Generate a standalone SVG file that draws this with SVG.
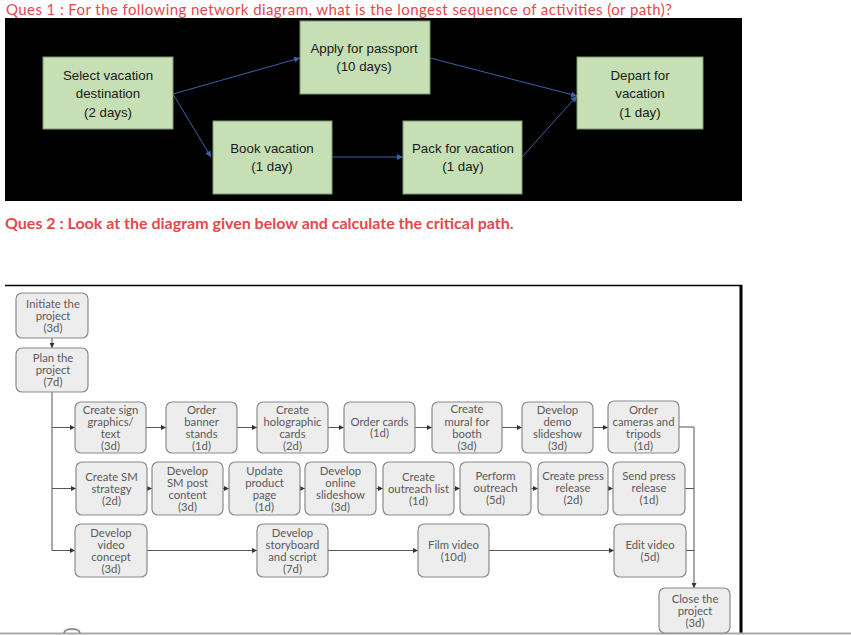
<svg xmlns="http://www.w3.org/2000/svg" width="851" height="635" viewBox="0 0 851 635">
<defs>
<style>
.q1{font-family:Lato,"Liberation Sans",sans-serif;font-size:15px;fill:#e5484d}
.q2{font-family:Lato,"Liberation Sans",sans-serif;font-size:16px;font-weight:bold;fill:#e5484d}
.g rect{fill:#c6dfb4;stroke:#7f9a70;stroke-width:1}
.g text{font-family:"Liberation Sans",Arial,sans-serif;font-size:13.3px;fill:#1a1a1a;text-anchor:middle}
.n rect{fill:#ededed;stroke:#8a8a8a;stroke-width:1.2}
.n text{font-family:Lato,"Open Sans",sans-serif;font-size:11.3px;fill:#5a5a5a;text-anchor:middle}
.bl{stroke:#3a63a8;stroke-width:1;fill:none}
.gl{stroke:#555;stroke-width:1;fill:none}
</style>
<marker id="ab" viewBox="0 0 10 10" refX="10" refY="5" markerWidth="6" markerHeight="6" markerUnits="userSpaceOnUse" orient="auto">
<path d="M0,0 L10,5 L0,10 z" fill="#3a63a8"/>
</marker>
<marker id="ag" viewBox="0 0 10 10" refX="10" refY="5" markerWidth="5" markerHeight="5" markerUnits="userSpaceOnUse" orient="auto">
<path d="M0,0 L10,5 L0,10 z" fill="#333"/>
</marker>
</defs>
<rect width="851" height="635" fill="#fff"/>
<text class="q1" x="6" y="14.5" textLength="666" lengthAdjust="spacing">Ques 1 : For the following network diagram, what is the longest sequence of activities (or path)?</text>
<rect x="5" y="18" width="737" height="183" fill="#000"/>
<g id="top-connectors">
<line class="bl" x1="173" y1="94" x2="300" y2="58" marker-end="url(#ab)"/>
<line class="bl" x1="173" y1="94" x2="211" y2="157" marker-end="url(#ab)"/>
<line class="bl" x1="332" y1="157" x2="403" y2="157" marker-end="url(#ab)"/>
<line class="bl" x1="430" y1="58" x2="577" y2="96" marker-end="url(#ab)"/>
<line class="bl" x1="522" y1="157" x2="577" y2="96" marker-end="url(#ab)"/>
</g>
<g id="select" class="g"><rect x="43" y="57" width="130" height="72"/><text x="108" y="80">Select vacation</text><text x="108" y="98">destination</text><text x="108" y="117">(2 days)</text></g>
<g id="apply" class="g"><rect x="300" y="21" width="130" height="73"/><text x="364" y="53">Apply for passport</text><text x="364" y="71">(10 days)</text></g>
<g id="book" class="g"><rect x="213" y="121" width="119" height="73"/><text x="272" y="153">Book vacation</text><text x="272" y="171">(1 day)</text></g>
<g id="pack" class="g"><rect x="403" y="121" width="119" height="73"/><text x="463" y="153">Pack for vacation</text><text x="463" y="171">(1 day)</text></g>
<g id="depart" class="g"><rect x="577" y="57" width="126" height="72"/><text x="640" y="80">Depart for</text><text x="640" y="98">vacation</text><text x="640" y="117">(1 day)</text></g>

<text class="q2" x="5" y="229">Ques 2 : Look at the diagram given below and calculate the critical path.</text>
<line x1="5" y1="285.5" x2="742" y2="285.5" stroke="#000" stroke-width="1.5"/>
<line x1="741" y1="285" x2="741" y2="633" stroke="#000" stroke-width="3"/>
<line x1="0" y1="633.5" x2="851" y2="633.5" stroke="#a8a8a8" stroke-width="2"/>
<path d="M64,633 A8,4 0 0 1 80,633" fill="none" stroke="#777" stroke-width="1.5"/>

<g id="connectors">
<line class="gl" x1="52" y1="338" x2="52" y2="348" marker-end="url(#ag)"/>
<path class="gl" d="M52,392 V550.5 H75" marker-end="url(#ag)"/>
<path class="gl" d="M52,427.5 H75" marker-end="url(#ag)"/>
<path class="gl" d="M52,488.5 H76" marker-end="url(#ag)"/>
<path class="gl" d="M146,427.5 H166" marker-end="url(#ag)"/>
<path class="gl" d="M237,427.5 H257" marker-end="url(#ag)"/>
<path class="gl" d="M328,427.5 H344" marker-end="url(#ag)"/>
<path class="gl" d="M415,427.5 H432" marker-end="url(#ag)"/>
<path class="gl" d="M502,427.5 H522" marker-end="url(#ag)"/>
<path class="gl" d="M593,427.5 H608" marker-end="url(#ag)"/>
<path class="gl" d="M679,427 H694 V588" marker-end="url(#ag)"/>
<path class="gl" d="M147,488.5 H152" marker-end="url(#ag)"/>
<path class="gl" d="M223,488.5 H229" marker-end="url(#ag)"/>
<path class="gl" d="M300,488.5 H305" marker-end="url(#ag)"/>
<path class="gl" d="M376,488.5 H383" marker-end="url(#ag)"/>
<path class="gl" d="M454,488.5 H460" marker-end="url(#ag)"/>
<path class="gl" d="M531,488.5 H538" marker-end="url(#ag)"/>
<path class="gl" d="M608,488.5 H613" marker-end="url(#ag)"/>
<path class="gl" d="M685,488.5 H694"/>
<path class="gl" d="M147,550.5 H257" marker-end="url(#ag)"/>
<path class="gl" d="M328,550.5 H418" marker-end="url(#ag)"/>
<path class="gl" d="M489,550.5 H614" marker-end="url(#ag)"/>
<path class="gl" d="M686,550.5 H694"/>
</g>

<g id="initiate" class="n"><rect x="16" y="293" width="72" height="45" rx="6"/><text x="53" y="307.5">Initiate the</text><text x="53" y="319.5">project</text><text x="53" y="331.5">(3d)</text></g>
<g id="plan" class="n"><rect x="16" y="348" width="72" height="44" rx="6"/><text x="53" y="361.5">Plan the</text><text x="53" y="373.5">project</text><text x="53" y="385.5">(7d)</text></g>

<g id="sign" class="n"><rect x="75" y="402" width="71" height="51" rx="6"/><text x="110.5" y="413.5">Create sign</text><text x="110.5" y="425.5">graphics/</text><text x="110.5" y="437.5">text</text><text x="110.5" y="449.5">(3d)</text></g>
<g id="banner" class="n"><rect x="166" y="402" width="71" height="51" rx="6"/><text x="201.5" y="413.5">Order</text><text x="201.5" y="425.5">banner</text><text x="201.5" y="437.5">stands</text><text x="201.5" y="449.5">(1d)</text></g>
<g id="holo" class="n"><rect x="257" y="402" width="71" height="51" rx="6"/><text x="292.5" y="413.5">Create</text><text x="292.5" y="425.5">holographic</text><text x="292.5" y="437.5">cards</text><text x="292.5" y="449.5">(2d)</text></g>
<g id="cards" class="n"><rect x="344" y="402" width="71" height="51" rx="6"/><text x="379.5" y="425.5">Order cards</text><text x="379.5" y="437">(1d)</text></g>
<g id="mural" class="n"><rect x="432" y="402" width="70" height="51" rx="6"/><text x="467" y="413">Create</text><text x="467" y="425.5">mural for</text><text x="467" y="437.5">booth</text><text x="467" y="449.5">(3d)</text></g>
<g id="demo" class="n"><rect x="522" y="402" width="71" height="51" rx="6"/><text x="557.5" y="413.5">Develop</text><text x="557.5" y="425.5">demo</text><text x="557.5" y="437.5">slideshow</text><text x="557.5" y="449.5">(3d)</text></g>
<g id="cameras" class="n"><rect x="608" y="401" width="71" height="52" rx="6"/><text x="643.5" y="413.5">Order</text><text x="643.5" y="425.5">cameras and</text><text x="643.5" y="437.5">tripods</text><text x="643.5" y="449.5">(1d)</text></g>

<g id="smstrategy" class="n"><rect x="76" y="462" width="71" height="53" rx="6"/><text x="111.5" y="480.5">Create SM</text><text x="111.5" y="492.5">strategy</text><text x="111.5" y="504.5">(2d)</text></g>
<g id="smpost" class="n"><rect x="152" y="462" width="71" height="53" rx="6"/><text x="187.5" y="474.5">Develop</text><text x="187.5" y="486.5">SM post</text><text x="187.5" y="498.5">content</text><text x="187.5" y="510.5">(3d)</text></g>
<g id="update" class="n"><rect x="229" y="462" width="71" height="53" rx="6"/><text x="264.5" y="474.5">Update</text><text x="264.5" y="486.5">product</text><text x="264.5" y="498.5">page</text><text x="264.5" y="510.5">(1d)</text></g>
<g id="online" class="n"><rect x="305" y="462" width="71" height="53" rx="6"/><text x="340.5" y="474.5">Develop</text><text x="340.5" y="486.5">online</text><text x="340.5" y="498.5">slideshow</text><text x="340.5" y="510.5">(3d)</text></g>
<g id="outlist" class="n"><rect x="383" y="462" width="71" height="53" rx="6"/><text x="418.5" y="480.5">Create</text><text x="418.5" y="492.5">outreach list</text><text x="418.5" y="504.5">(1d)</text></g>
<g id="perform" class="n"><rect x="460" y="462" width="71" height="53" rx="6"/><text x="495.5" y="480">Perform</text><text x="495.5" y="492">outreach</text><text x="495.5" y="504">(5d)</text></g>
<g id="cpress" class="n"><rect x="538" y="462" width="70" height="53" rx="6"/><text x="573" y="480">Create press</text><text x="573" y="492">release</text><text x="573" y="504">(2d)</text></g>
<g id="spress" class="n"><rect x="613" y="462" width="72" height="53" rx="6"/><text x="649" y="480">Send press</text><text x="649" y="492">release</text><text x="649" y="504">(1d)</text></g>

<g id="vconcept" class="n"><rect x="75" y="524" width="72" height="53" rx="6"/><text x="111" y="536.5">Develop</text><text x="111" y="548.5">video</text><text x="111" y="560.5">concept</text><text x="111" y="572.5">(3d)</text></g>
<g id="storyboard" class="n"><rect x="257" y="524" width="71" height="53" rx="6"/><text x="292.5" y="536.5">Develop</text><text x="292.5" y="548.5">storyboard</text><text x="292.5" y="560.5">and script</text><text x="292.5" y="572.5">(7d)</text></g>
<g id="film" class="n"><rect x="418" y="524" width="71" height="53" rx="6"/><text x="453.5" y="548.5">Film video</text><text x="453.5" y="560.5">(10d)</text></g>
<g id="edit" class="n"><rect x="614" y="524" width="72" height="53" rx="6"/><text x="650" y="549">Edit video</text><text x="650" y="560.5">(5d)</text></g>
<g id="close" class="n"><rect x="659" y="588" width="71" height="45" rx="6"/><text x="695" y="602.5">Close the</text><text x="695" y="614.5">project</text><text x="695" y="626.5">(3d)</text></g>
</svg>
